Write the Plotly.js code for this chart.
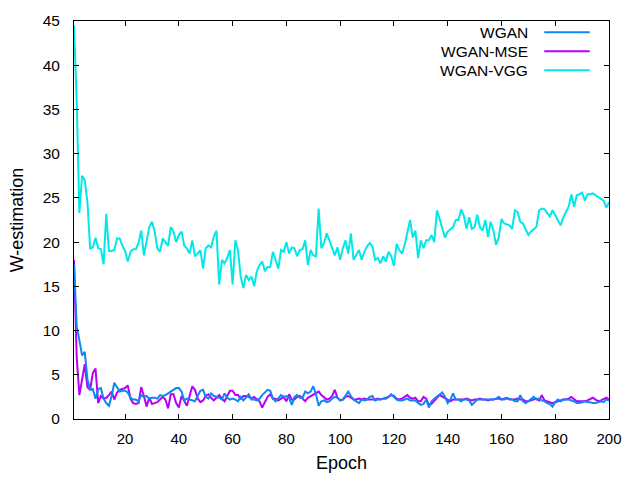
<!DOCTYPE html>
<html>
<head>
<meta charset="utf-8">
<script src="https://cdn.plot.ly/plotly-3.0.1.min.js"></script>
<style>html,body{margin:0;padding:0;background:#fff;}#chart{width:640px;height:480px;}</style>
</head>
<body>
<div id="chart"></div>
<script>
var seriesNames = ["WGAN", "WGAN-MSE", "WGAN-VGG"];
var seriesColors = ["#0f86f5", "#b700f5", "#00e8e8"];

var wgan = [
17.5, 10.5, 8.9, 7.2, 7.6, 4.5, 3.3, 3.4, 2.3, 3.4,
3.5, 2.3, 1.8, 1.5, 2.6, 4.1, 3.6, 3.1, 3.2, 3.2,
3, 2.4, 2.2, 2.2, 2, 2.7, 2.5, 2.6, 2.3, 2.4,
2.4, 2.3, 2.7, 2.6, 2.7, 2.9, 3.1, 3.3, 3.5, 3.5,
3.1, 2.1, 2.3, 2.2, 2.1, 2, 2.6, 3.2, 3.3, 2.5,
2.3, 2.9, 2.6, 2.5, 2.4, 2.2, 2.9, 2.4, 2.2, 2.3,
2.2, 2, 2.5, 2.1, 2.4, 2.8, 2.2, 2.2, 2.1, 2.3,
2.7, 3, 3.3, 3.2, 2.3, 2, 2.3, 2.7, 2.5, 2.6,
2.4, 1.6, 2.5, 2.7, 2.4, 2.4, 3.1, 2.9, 3.1, 3.7,
2.8, 1.5, 2, 2.1, 1.9, 2, 2.3, 2.5, 2.4, 2.1,
2.2, 2.6, 3.1, 2.6, 2.2, 2, 1.8, 2.2, 2.1, 2.2,
2.5, 2.6, 2.1, 2.2, 2.2, 2.3, 2.3, 2.5, 2.8, 2.5,
2.2, 2.1, 2.1, 2.2, 2.3, 2.1, 2.1, 2.1, 1.8, 1.6,
1.7, 2.2, 1.3, 2, 2.3, 2.5, 2.7, 3, 2.5, 1.8,
2.2, 2.9, 2.2, 2.2, 2, 2.2, 2.2, 2.1, 1.6, 1.9,
2.2, 2.2, 2.2, 2.2, 2.2, 2.2, 2.2, 2.3, 2.5, 2.2,
2.2, 2.3, 2.3, 2.2, 2, 2, 2.7, 2, 1.8, 2,
2.3, 2.5, 2.2, 2.3, 2.1, 2, 1.8, 1.7, 1.4, 1.9,
2.2, 2, 2.2, 2.2, 2.2, 2.1, 2, 1.8, 1.8, 1.9,
2, 1.9, 1.9, 1.8, 1.8, 1.9, 2, 1.9, 2.2, 2.1
];

var wganMse = [
18, 7, 2.7, 4.6, 6.2, 3.6, 3.3, 5.2, 5.7, 1.8,
2.6, 2.3, 2.4, 2.7, 3.1, 2.2, 3, 3.3, 3.4, 3.5,
3.8, 2.3, 1.8, 1.7, 1.8, 3.6, 2.6, 1.4, 2.4, 1.7,
1.8, 1.9, 2.2, 2.5, 2.2, 1.2, 2.8, 2.8, 1.8, 1.3,
2.6, 2.1, 1.5, 2.6, 3.7, 3.3, 2.3, 1.9, 2.1, 2.6,
2.8, 2.4, 2.1, 2.4, 2.7, 2.3, 2, 2.6, 3.2, 3.2,
2.7, 2.7, 2.3, 2.6, 2.6, 2.5, 2.3, 2.5, 2.3, 2,
1.3, 2, 2.5, 2.8, 2.3, 2.3, 2.1, 2.3, 2.5, 2,
2.8, 2.2, 2.2, 2.5, 2.6, 2.3, 2, 2.4, 2.6, 2.8,
2.9, 3.1, 2.7, 2.4, 2.2, 2.3, 2.6, 3.3, 2.4, 2.1,
2.2, 2.5, 2.6, 2.4, 2.2, 2.2, 2.3, 2.2, 2.3, 2.2,
2.2, 2.2, 2.2, 2.3, 2.2, 2.3, 2.4, 2.5, 2.7, 2.6,
2.3, 2.2, 2.3, 2.5, 2.7, 2.4, 2.3, 2.4, 2, 2,
2.5, 2.3, 1.6, 1.7, 2.1, 2.4, 2.7, 2.5, 2.3, 2.1,
2, 2.2, 2.2, 2.2, 2.2, 2.2, 2.3, 2.2, 2.1, 2.2,
2.2, 2.3, 2.2, 2.2, 2.1, 2.2, 2.2, 2.3, 2.3, 2.2,
2.3, 2.4, 2.2, 2.2, 2.2, 2.3, 2.2, 2.2, 2, 2,
2.1, 2.2, 2.3, 2.1, 2.7, 2.1, 2, 1.9, 1.8, 1.9,
2, 2.1, 2.2, 2.2, 2.3, 2.5, 2.2, 2, 2, 2,
2, 2.1, 2.3, 2.4, 2.2, 2, 2.1, 2.3, 2.4, 2.2
];

var wganVgg = [
44.5, 36, 23.3, 27.5, 27, 24.5, 19.3, 19.4, 20.5, 19.3,
19.2, 17.5, 23.2, 19, 19, 19.1, 20.4, 20.4, 19.6, 19,
17.8, 18.9, 19.2, 19.2, 19.9, 21.3, 18.5, 20, 21.7, 22.3,
21.2, 19.3, 18.9, 20.4, 20, 19.6, 21.7, 21.2, 20, 20.8,
21.2, 19.6, 19.3, 18.7, 20.2, 18.4, 18.7, 19.1, 17, 19.3,
19.6, 19.4, 20.6, 21.3, 15.2, 18, 17.6, 18.2, 19.1, 15.2,
20.2, 19.1, 16.1, 14.8, 16.3, 15.7, 16.1, 15, 16.7, 17.4,
17.8, 16.7, 17.2, 17.2, 18.9, 18, 17, 19.1, 18.9, 20,
18.7, 19.4, 19.3, 18.4, 19.1, 19.2, 20.2, 17.4, 19.1, 18.5,
18.4, 23.8, 19.3, 19.9, 21, 20.2, 19.3, 18.5, 19.4, 18,
19.3, 20.2, 18.7, 21, 18, 18.5, 19.1, 18, 18.9, 19.5,
19.9, 19.5, 18, 18.2, 17.6, 18.4, 17.8, 18.9, 18.4, 17.3,
19.8, 19.1, 18.7, 19.7, 21.2, 22.5, 20.5, 21.3, 18.2, 20.2,
19.3, 20.2, 20.2, 20.8, 20, 23.6, 22.6, 21.5, 20.5, 21.2,
21.5, 21.7, 22.5, 22.5, 23.7, 23, 21.5, 22.8, 21.5, 21.7,
23.1, 21.7, 21.3, 22.5, 20.6, 22.3, 21.3, 19.7, 20.5, 22.6,
22.1, 22, 21.9, 21.5, 23.6, 23.4, 22.3, 22.1, 21.5, 20.8,
21.2, 21.5, 21.7, 23.6, 23.8, 23.7, 23.3, 22.9, 23.6, 23,
22.5, 21.9, 22.8, 23.4, 24, 25.4, 24, 25.3, 25.4, 25.6,
24.7, 25.4, 25.4, 25.5, 25.3, 25.1, 24.8, 24.7, 23.9, 24.5
];

var seriesValues = [wgan, wganMse, wganVgg];
var epochs = wgan.map(function (_, i) { return i + 1; });
var xTickVals = [20, 40, 60, 80, 100, 120, 140, 160, 180, 200];
var yTickVals = [0, 5, 10, 15, 20, 25, 30, 35, 40, 45];

var FONT = "Liberation Sans, Arial, Helvetica, sans-serif";

var traces = seriesNames.map(function (name, i) {
  return {
    x: epochs,
    y: seriesValues[i],
    type: "scatter",
    mode: "lines",
    name: name,
    showlegend: false,
    line: { color: seriesColors[i], width: 2 }
  };
}).reverse();

// gnuplot-style legend: label on the left, line sample on the right
var legendRowsY = [0.9716, 0.924, 0.876];
var annotations = [];
var shapes = [];
seriesNames.forEach(function (name, i) {
  annotations.push({
    xref: "paper", yref: "paper",
    x: 0.852, y: legendRowsY[i],
    xanchor: "right", yanchor: "middle",
    text: name, showarrow: false,
    font: { family: FONT, size: 15.5, color: "#000" }
  });
  shapes.push({
    type: "line", xref: "paper", yref: "paper",
    x0: 0.879, x1: 0.964, y0: legendRowsY[i], y1: legendRowsY[i],
    line: { color: seriesColors[i], width: 2 }
  });
});

var axisCommon = {
  showline: true, linecolor: "#000", linewidth: 1,
  mirror: "ticks", ticks: "inside", ticklen: 5, tickwidth: 1, tickcolor: "#000",
  showgrid: false, zeroline: false,
  tickfont: { family: FONT, size: 15, color: "#000" }
};

var layout = {
  width: 640, height: 480,
  margin: { l: 74, r: 31, t: 21, b: 61 },
  paper_bgcolor: "#fff", plot_bgcolor: "#fff",
  font: { family: FONT, color: "#000" },
  xaxis: Object.assign({}, axisCommon, {
    range: [1, 200],
    tickmode: "array", tickvals: xTickVals,
    ticklabelstandoff: 6,
    title: { text: "Epoch", font: { family: FONT, size: 18, color: "#000" }, standoff: 10 }
  }),
  yaxis: Object.assign({}, axisCommon, {
    range: [0, 45],
    tickmode: "array", tickvals: yTickVals,
    ticklabelstandoff: 10,
    tickfont: { family: FONT, size: 15.5, color: "#000" },
    title: { text: "W-estimation", font: { family: FONT, size: 18, color: "#000" }, standoff: 14 }
  }),
  annotations: annotations,
  shapes: shapes
};

Plotly.newPlot("chart", traces, layout, { staticPlot: true, displayModeBar: false });
</script>
</body>
</html>
